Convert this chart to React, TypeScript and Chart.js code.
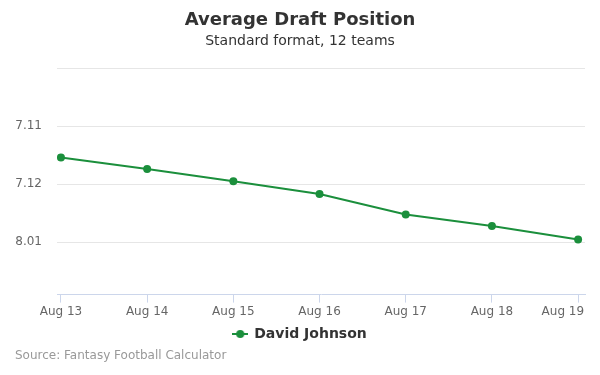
import React, { useEffect, useRef } from "react";
import { Chart, registerables } from "chart.js";

Chart.register(...registerables);

const categories = ["Aug 13", "Aug 14", "Aug 15", "Aug 16", "Aug 17", "Aug 18", "Aug 19"];
const adpValues = [83.54, 83.74, 83.95, 84.17, 84.52, 84.72, 84.95];
const yTicks = [82, 83, 84, 85];
const seriesName = "David Johnson";
const titleText = "Average Draft Position";
const subtitleText = "Standard format, 12 teams";
const sourceText = "Source: Fantasy Football Calculator";

const GREEN = "#1b8f3c";
const FONT = "'DejaVu Sans', sans-serif";

function fmtPick(v: number): string {
  const r = Math.floor((v - 1) / 12) + 1;
  const p = Math.round(v - 1) % 12 + 1;
  return r + "." + (p < 10 ? "0" + p : "" + p);
}

function makeLegendIcon(): HTMLCanvasElement {
  const c = document.createElement("canvas");
  c.width = 16;
  c.height = 10;
  const ctx = c.getContext("2d")!;
  ctx.strokeStyle = GREEN;
  ctx.lineWidth = 2;
  ctx.beginPath();
  ctx.moveTo(0, 5);
  ctx.lineTo(16, 5);
  ctx.stroke();
  ctx.fillStyle = GREEN;
  ctx.beginPath();
  ctx.arc(8, 5, 4, 0, Math.PI * 2);
  ctx.fill();
  return c;
}

const sourcePlugin = {
  id: "sourceText",
  afterDraw(chart: any) {
    const ctx = chart.ctx;
    ctx.save();
    ctx.font = `12px ${FONT}`;
    ctx.fillStyle = "#999999";
    ctx.textAlign = "left";
    ctx.textBaseline = "middle";
    ctx.fillText(sourceText, 15, 356);
    ctx.restore();
  },
};

export default function App() {
  const ref = useRef<HTMLCanvasElement | null>(null);

  useEffect(() => {
    if (!ref.current) return;
    const icon = makeLegendIcon();
    const chart = new Chart(ref.current, {
      type: "line",
      data: {
        datasets: [
          {
            label: seriesName,
            data: adpValues.map((v, i) => ({ x: i, y: v })),
            borderColor: GREEN,
            backgroundColor: GREEN,
            borderWidth: 2,
            pointRadius: 4,
            pointHoverRadius: 4,
            pointBackgroundColor: GREEN,
            pointBorderWidth: 0,
            tension: 0,
            fill: false,
          },
        ],
      },
      options: {
        animation: false,
        responsive: false,
        maintainAspectRatio: false,
        layout: { padding: { left: 15, right: 15, top: 0, bottom: 24 } },
        plugins: {
          title: {
            display: true,
            text: titleText,
            color: "#333333",
            font: { family: FONT, size: 18, weight: "bold" },
            padding: { top: 10, bottom: 1 },
          },
          subtitle: {
            display: true,
            text: subtitleText,
            color: "#333333",
            font: { family: FONT, size: 14 },
            padding: { top: 0, bottom: 18.6 },
          },
          legend: {
            position: "bottom",
            labels: {
              usePointStyle: true,
              generateLabels: () => [
                {
                  text: seriesName,
                  pointStyle: icon,
                  fillStyle: GREEN,
                  strokeStyle: GREEN,
                  lineWidth: 0,
                  datasetIndex: 0,
                  fontColor: "#333333",
                },
              ],
              color: "#333333",
              font: { family: FONT, size: 14, weight: "bold" },
              padding: 6,
            },
          },
          tooltip: { enabled: false },
        },
        scales: {
          x: {
            type: "linear",
            min: -0.046,
            max: 6.08,
            afterBuildTicks: (scale: any) => {
              scale.ticks = categories.map((_, i) => ({ value: i }));
            },
            afterFit: (scale: any) => {
              scale.paddingLeft = 0;
              scale.paddingRight = 0;
            },
            ticks: {
              callback: (v: any) => {
                const i = Number(v);
                const s = categories[i] ?? "";
                // last label kept inside the chart, as in the reference
                return i === categories.length - 1 ? s + "        " : s;
              },
              color: "#666666",
              font: { family: FONT, size: 12 },
              maxRotation: 0,
              autoSkip: false,
              padding: 2,
            },
            grid: {
              drawOnChartArea: false,
              drawTicks: true,
              tickLength: 8,
              color: "#ccd6eb",
            },
            border: { display: true, color: "#ccd6eb", width: 1 },
          },
          y: {
            type: "linear",
            reverse: true,
            min: 82,
            max: 85.9,
            afterBuildTicks: (scale: any) => {
              scale.ticks = yTicks.map((v) => ({ value: v }));
            },
            afterFit: (scale: any) => {
              scale.width = 42;
            },
            ticks: {
              callback: (v: any) => (Number(v) === 82 ? "" : fmtPick(Number(v))),
              color: "#666666",
              font: { family: FONT, size: 12 },
              padding: 15,
            },
            grid: {
              color: "#e6e6e6",
              drawTicks: false,
            },
            border: { display: false },
          },
        },
      },
      plugins: [sourcePlugin],
    } as any);
    return () => chart.destroy();
  }, []);

  return (
    <div style={{ position: "fixed", left: 0, top: 0, width: 600, height: 375, background: "#fff" }}>
      <canvas ref={ref} width={600} height={375} style={{ width: 600, height: 375 }} />
    </div>
  );
}
